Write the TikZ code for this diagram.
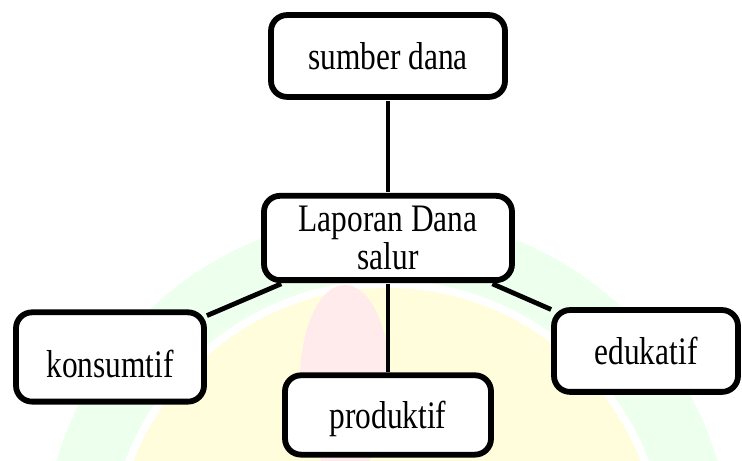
\documentclass[tikz,border=0pt]{standalone}
\usepackage{fontspec}
\setmainfont{Liberation Serif}

\begin{document}
\begin{tikzpicture}[x=0.5pt, y=-0.4032pt, yscale=1.24,
    kotak/.style={draw, line width=2.9pt, rounded corners=8pt, fill=white,
      transform shape, align=center, inner sep=0pt,
      font=\fontsize{15.7}{13.7}\selectfont},
    garis/.style={line width=2.4pt}]
    \useasboundingbox (0,0) rectangle (742,461);

    % faint logo in the background
    \fill[green!7, even odd rule] (387,560) circle[radius=345] (387,560) circle[radius=280];
    \fill[yellow!14] (387,560) circle[radius=272];
    \fill[red!8] (345,380) ellipse[x radius=45, y radius=95];

    % boxes
    \node[kotak, minimum width=117pt, minimum height=33pt] (sumber) at (388,56) {sumber dana};
    \node[kotak, minimum width=124pt, minimum height=34pt] (lap) at (388,238) {Laporan Dana\\salur};
    \node[kotak, minimum width=94pt, minimum height=36pt, text height=17pt] (kon) at (110,357) {konsumtif};
    \node[kotak, minimum width=103pt, minimum height=32pt, text height=14pt] (pro) at (388,415) {produktif};
    \node[kotak, minimum width=92pt, minimum height=33pt] (edu) at (646,351) {edukatif};

    % connectors
    \draw[garis] (sumber) -- (lap);
    \draw[garis] (lap) -- (kon);
    \draw[garis] (lap) -- (pro);
    \draw[garis] (lap) -- (edu);
\end{tikzpicture}
\end{document}
